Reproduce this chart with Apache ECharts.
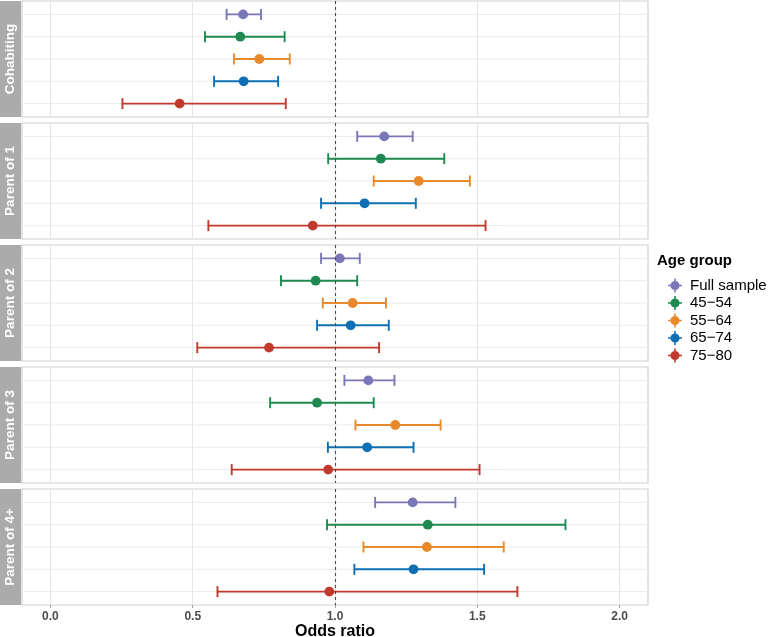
<!DOCTYPE html>
<html>
<head>
<meta charset="utf-8">
<script src="https://cdn.jsdelivr.net/npm/echarts@6/dist/echarts.min.js"></script>
<style>html,body{margin:0;padding:0;background:#fff;}#main{width:777px;height:637px;}</style>
</head>
<body>
<div id="main"></div>
<script>
// ---- data ----
const panels = ['Cohabiting', 'Parent of 1', 'Parent of 2', 'Parent of 3', 'Parent of 4+'];
const groups = ['Full sample', '45\u221254', '55\u221264', '65\u221274', '75\u221280'];
const colors = ['#7B76B8', '#1E8A50', '#E8892B', '#0F6FB5', '#C0392B'];
const xTicks = [0, 0.5, 1, 1.5, 2];

const cohabitingOR   = [0.677, 0.667, 0.734, 0.679, 0.454];
const cohabitingLow  = [0.619, 0.543, 0.645, 0.575, 0.253];
const cohabitingHigh = [0.740, 0.823, 0.841, 0.800, 0.827];

const parent1OR   = [1.173, 1.161, 1.294, 1.104, 0.922];
const parent1Low  = [1.078, 0.976, 1.136, 0.951, 0.555];
const parent1High = [1.273, 1.384, 1.474, 1.284, 1.529];

const parent2OR   = [1.017, 0.932, 1.062, 1.055, 0.768];
const parent2Low  = [0.951, 0.810, 0.957, 0.937, 0.516];
const parent2High = [1.087, 1.078, 1.179, 1.189, 1.155];

const parent3OR   = [1.117, 0.937, 1.212, 1.113, 0.976];
const parent3Low  = [1.033, 0.772, 1.072, 0.975, 0.637];
const parent3High = [1.209, 1.136, 1.371, 1.276, 1.508];

const parent4OR   = [1.273, 1.326, 1.323, 1.276, 0.980];
const parent4Low  = [1.141, 0.972, 1.100, 1.068, 0.587];
const parent4High = [1.423, 1.810, 1.593, 1.524, 1.641];

const panelOR   = [cohabitingOR, parent1OR, parent2OR, parent3OR, parent4OR];
const panelLow  = [cohabitingLow, parent1Low, parent2Low, parent3Low, parent4Low];
const panelHigh = [cohabitingHigh, parent1High, parent2High, parent3High, parent4High];

// ---- layout ----
const FONT = 'Liberation Sans, Arial, Helvetica, sans-serif';
const gridLeft = 22, gridRight = 129, panelH = 116, panelStep = 122, firstTop = 1;

const chart = echarts.init(document.getElementById('main'), null, {renderer: 'canvas'});

function renderBar(params, api) {
  const row = api.value(0), est = api.value(1), lo = api.value(2), hi = api.value(3);
  const c = api.visual('color');
  const pe = api.coord([est, row]), pl = api.coord([lo, row]), ph = api.coord([hi, row]);
  const cap = 5.5, lw = 1.9;
  const st = {stroke: c, lineWidth: lw};
  return {type: 'group', children: [
    {type: 'line', shape: {x1: pl[0], y1: pe[1], x2: ph[0], y2: pe[1]}, style: st},
    {type: 'line', shape: {x1: pl[0], y1: pe[1] - cap, x2: pl[0], y2: pe[1] + cap}, style: st},
    {type: 'line', shape: {x1: ph[0], y1: pe[1] - cap, x2: ph[0], y2: pe[1] + cap}, style: st},
    {type: 'circle', shape: {cx: pe[0], cy: pe[1], r: 4.9}, style: {fill: c}}
  ]};
}

function renderRowLine(params, api) {
  const p = api.coord([api.value(0), api.value(1)]);
  const cs = params.coordSys;
  return {type: 'line', shape: {x1: cs.x, y1: p[1], x2: cs.x + cs.width, y2: p[1]},
          style: {stroke: '#EBEBEB', lineWidth: 1}};
}

const grids = [], xAxes = [], yAxes = [], series = [], graphics = [];
panels.forEach((name, p) => {
  const top = firstTop + panelStep * p;
  const last = p === panels.length - 1;
  grids.push({left: gridLeft, right: gridRight, top: top, height: panelH,
              outerBoundsMode: 'none', containLabel: false,
              show: true, borderColor: '#CFCFCF', borderWidth: 1.2, backgroundColor: '#fff'});
  xAxes.push({
    type: 'value', gridIndex: p, min: -0.1, max: 2.1, interval: 0.5,
    axisLine: {show: false},
    axisTick: {show: last, length: 3, lineStyle: {color: '#A0A0A0'}, customValues: xTicks},
    axisLabel: {show: last, customValues: xTicks, margin: 6,
                formatter: v => v.toFixed(1),
                color: '#4D4D4D', fontFamily: FONT, fontSize: 12, fontWeight: 'bold'},
    splitLine: {show: true, lineStyle: {color: '#E6E6E6', width: 1}, customValues: xTicks},
    name: last ? 'Odds ratio' : '', nameLocation: 'middle', nameGap: 12,
    nameTextStyle: {fontFamily: FONT, fontSize: 16, fontWeight: 'bold', color: '#000'}
  });
  yAxes.push({type: 'value', gridIndex: p, min: 0.4, max: 5.6, inverse: true, show: false});
  series.push({
    type: 'custom', name: 'rows' + p, xAxisIndex: p, yAxisIndex: p, z: 1, silent: true,
    data: groups.map((g, i) => [1, i + 1]), encode: {x: 0, y: 1},
    renderItem: renderRowLine,
    markLine: {silent: true, symbol: ['none', 'none'], label: {show: false},
               lineStyle: {type: [3, 3], color: '#4A4A4A', width: 1.1},
               data: [{xAxis: 1}], animation: false}
  });
  groups.forEach((g, i) => {
    series.push({
      type: 'custom', name: g, xAxisIndex: p, yAxisIndex: p, z: 3,
      itemStyle: {color: colors[i]},
      data: [[i + 1, panelOR[p][i], panelLow[p][i], panelHigh[p][i]]],
      encode: {x: [1, 2, 3], y: 0},
      renderItem: renderBar
    });
  });
  graphics.push({type: 'rect', shape: {x: 0, y: top, width: 21, height: panelH},
                 style: {fill: '#ABABAB'}, silent: true});
  graphics.push({type: 'text', x: 10.5, y: top + panelH / 2, rotation: Math.PI / 2,
                 style: {text: name, fill: '#fff', font: 'bold 13.5px ' + FONT,
                         align: 'center', verticalAlign: 'middle'}, silent: true});
});

const legendIcon = 'path://M6.2,0h1.6v14h-1.6z M0,6.2h14v1.6h-14z M2.4,7a4.6,4.6 0 1,1 9.2,0a4.6,4.6 0 1,1 -9.2,0z';

chart.setOption({
  animation: false,
  backgroundColor: '#fff',
  color: colors,
  title: {text: 'Age group', left: 652, top: 248,
          textStyle: {fontFamily: FONT, fontSize: 15, fontWeight: 'bold', color: '#000'}},
  legend: {
    data: groups, orient: 'vertical', left: 663, top: 273,
    itemWidth: 14, itemHeight: 14, itemGap: 2.5, icon: legendIcon,
    textStyle: {fontFamily: FONT, fontSize: 15, color: '#000', lineHeight: 14, padding: [0, 0, 0, 3]},
    selectedMode: false
  },
  grid: grids, xAxis: xAxes, yAxis: yAxes, series: series, graphic: graphics
});
</script>
</body>
</html>
